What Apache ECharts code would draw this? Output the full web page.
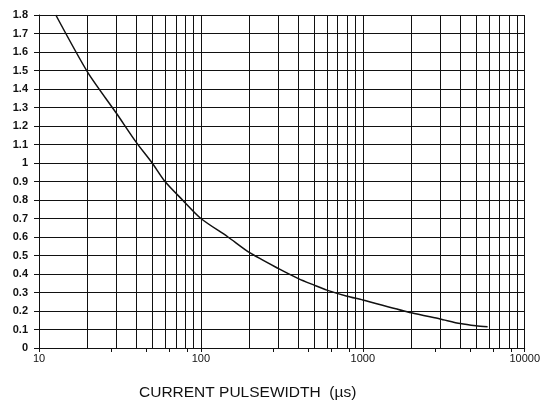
<!DOCTYPE html>
<html>
<head>
<meta charset="utf-8">
<script src="https://cdn.jsdelivr.net/npm/echarts@6/dist/echarts.min.js"></script>
<style>
  html, body { margin: 0; padding: 0; background: #fff; }
  #chart { width: 543px; height: 408px; }
</style>
</head>
<body>
<div id="chart"></div>
<script>
// pulsewidth (us)
var pulseWidth = [12.7, 20, 30, 40, 50, 60, 77, 100, 147, 200, 300, 400, 500, 600, 800, 1000, 2000, 3000, 4000, 5000, 5900];
var level = [1.8, 1.49, 1.27, 1.11, 1.0, 0.9, 0.8, 0.7, 0.6, 0.515, 0.43, 0.375, 0.34, 0.313, 0.28, 0.26, 0.19, 0.157, 0.132, 0.12, 0.115];

// extra vertical log grid lines between the decades
var gridX = [20, 30, 40, 50, 60, 70, 80, 90,
  200, 300, 400, 500, 600, 700, 800, 900,
  2000, 3000, 4000, 5000, 6000, 7000, 8000, 9000];

var xTitle = "CURRENT PULSEWIDTH  (\u00b5s)";

var chart = echarts.init(document.getElementById("chart"));
var ink = "#111";

chart.setOption({
  backgroundColor: "#fff",
  animation: false,
  title: {
    text: xTitle,
    left: 134,
    top: 380,
    textStyle: { fontFamily: "Liberation Sans", fontSize: 15.5, fontWeight: "normal", color: ink }
  },
  grid: { left: 39, right: 14, top: 15, bottom: 60 },
  xAxis: {
    type: "log",
    logBase: 10,
    min: 10,
    max: 10000,
    axisLine: { show: true, lineStyle: { color: ink, width: 1 } },
    axisTick: { show: true, length: 4, lineStyle: { color: ink } },
    minorTick: { show: true, splitNumber: 5, length: 4, lineStyle: { color: ink } },
    splitLine: { show: true, lineStyle: { color: ink, width: 1 } },
    axisLabel: {
      margin: 5,
      fontFamily: "Liberation Sans",
      fontSize: 11,
      color: ink,
      formatter: function (v) { return String(Math.round(v)); }
    }
  },
  yAxis: {
    type: "value",
    min: 0,
    max: 1.8,
    interval: 0.1,
    axisLine: { show: true, lineStyle: { color: ink, width: 1 } },
    axisTick: { show: true, length: 5, lineStyle: { color: ink } },
    splitLine: { show: true, lineStyle: { color: ink, width: 1 } },
    axisLabel: {
      margin: 11,
      fontFamily: "Liberation Sans",
      fontSize: 11,
      fontWeight: "bold",
      color: ink
    }
  },
  series: [
    {
      type: "line",
      data: pulseWidth.map(function (x, i) { return [x, level[i]]; }),
      smooth: 0.25,
      symbol: "none",
      lineStyle: { color: ink, width: 1.5 },
      markLine: {
        silent: true,
        symbol: "none",
        label: { show: false },
        lineStyle: { color: ink, width: 1, type: "solid" },
        data: gridX.map(function (x) { return { xAxis: x }; })
      }
    }
  ]
});
</script>
</body>
</html>
